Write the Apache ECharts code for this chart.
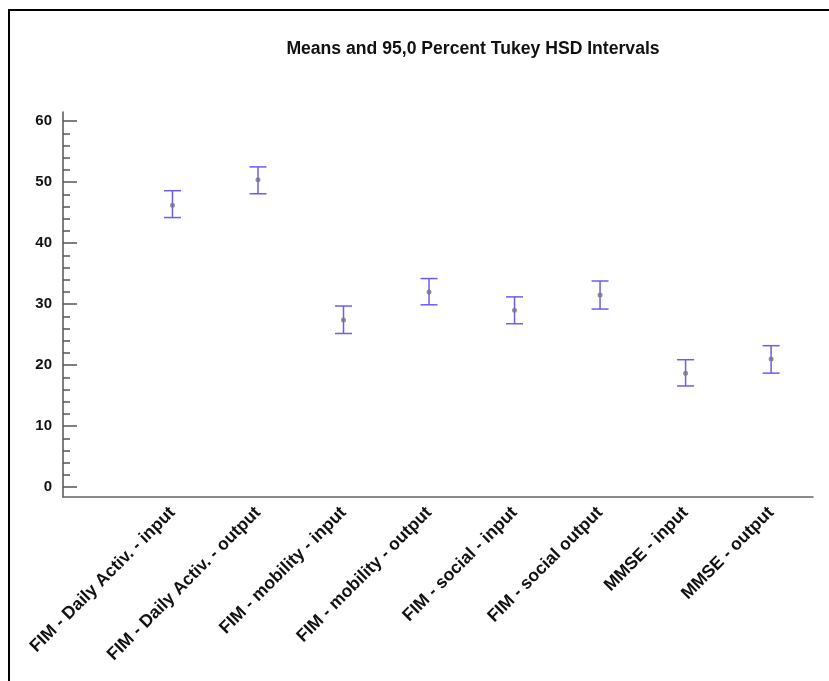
<!DOCTYPE html>
<html>
<head>
<meta charset="utf-8">
<script src="https://cdn.jsdelivr.net/npm/echarts@6/dist/echarts.min.js"></script>
<style>html,body{margin:0;padding:0;background:#fff;}#c{width:829px;height:681px;}</style>
</head>
<body>
<div id="c"></div>
<script>
const categories = [
  'FIM - Daily Activ. - input',
  'FIM - Daily Activ. - output',
  'FIM - mobility - input',
  'FIM - mobility - output',
  'FIM - social - input',
  'FIM - social output',
  'MMSE - input',
  'MMSE - output'
];
const means = [46.2, 50.4, 27.4, 32.0, 29.0, 31.5, 18.7, 21.0];
const lower = [44.2, 48.1, 25.2, 29.9, 26.8, 29.2, 16.6, 18.7];
const upper = [48.6, 52.5, 29.7, 34.2, 31.2, 33.8, 20.9, 23.2];
const yTickLabels = [0, 10, 20, 30, 40, 50, 60];
const yMinorTicks = [2,4,6,8,12,14,16,18,22,24,26,28,32,34,36,38,42,44,46,48,52,54,56,58];
const xPositions = [1, 2, 3, 4, 5, 6, 7, 8];

const chart = echarts.init(document.getElementById('c'), null, {renderer: 'canvas'});
const barColor = '#6b5cf2';
const font = 'Arial, "Liberation Sans", sans-serif';

const intervalData = categories.map((c, i) => [xPositions[i], lower[i], upper[i]]);
const meanData = categories.map((c, i) => [xPositions[i], means[i]]);

chart.setOption({
  animation: false,
  backgroundColor: '#fff',
  title: {
    text: 'Means and 95,0 Percent Tukey HSD Intervals',
    left: 468, top: 35, textAlign: 'center',
    textStyle: {fontFamily: font, fontSize: 17.6, fontWeight: 'bold', color: '#111'}
  },
  graphic: [{
    type: 'rect', silent: true,
    shape: {x: 9, y: 10, width: 900, height: 800},
    style: {fill: 'none', stroke: '#000', lineWidth: 2}
  }],
  grid: {left: 63, right: 16, top: 112, bottom: 184},
  xAxis: {
    type: 'value', min: -0.28, max: 8.49,
    splitLine: {show: false},
    axisTick: {show: false},
    axisLine: {show: true, onZero: false, lineStyle: {color: '#666', width: 1.5}},
    axisLabel: {
      customValues: xPositions,
      rotate: 45, margin: 13,
      fontFamily: font, fontSize: 17.5, fontWeight: 'bold', color: '#111',
      formatter: v => categories[Math.round(v) - 1] || ''
    }
  },
  yAxis: [{
    type: 'value', min: -1.6, max: 61.5,
    splitLine: {show: false},
    axisLine: {show: true, onZero: false, lineStyle: {color: '#555', width: 1.5}},
    axisTick: {show: true, inside: true, length: 14, customValues: yTickLabels, lineStyle: {color: '#555', width: 1.5}},
    axisLabel: {customValues: yTickLabels, margin: 11, fontFamily: font, fontSize: 15, fontWeight: 'bold', color: '#111'}
  }, {
    type: 'value', min: -1.6, max: 61.5, position: 'left', offset: 0,
    splitLine: {show: false},
    axisLine: {show: false, onZero: false},
    axisTick: {show: true, inside: true, length: 7, customValues: yMinorTicks, lineStyle: {color: '#555', width: 1.5}},
    axisLabel: {show: false}
  }],
  series: [{
    type: 'custom',
    data: intervalData,
    renderItem: function (params, api) {
      const x = api.value(0);
      const top = api.coord([x, api.value(2)]);
      const bot = api.coord([x, api.value(1)]);
      const hw = 8.5;
      const st = {stroke: barColor, lineWidth: 1.5};
      return {type: 'group', children: [
        {type: 'line', shape: {x1: top[0], y1: top[1], x2: bot[0], y2: bot[1]}, style: st},
        {type: 'line', shape: {x1: top[0] - hw, y1: top[1], x2: top[0] + hw, y2: top[1]}, style: st},
        {type: 'line', shape: {x1: bot[0] - hw, y1: bot[1], x2: bot[0] + hw, y2: bot[1]}, style: st}
      ]};
    }
  }, {
    type: 'scatter', data: meanData, yAxisIndex: 0,
    symbol: 'circle', symbolSize: 5,
    itemStyle: {color: '#777'}, z: 5
  }]
});
</script>
</body>
</html>
